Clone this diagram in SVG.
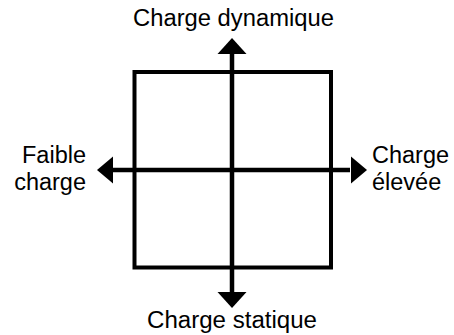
<svg xmlns="http://www.w3.org/2000/svg" width="454" height="335" viewBox="0 0 454 335">
<style>
text{font-family:"Liberation Sans",Arial,sans-serif;font-size:23.5px;fill:#000}
.ln{stroke:#000;stroke-width:4.5;fill:none}
.hd{fill:#000;stroke:none}
</style>
<rect width="454" height="335" fill="#fff"/>
<g id="square"><rect class="ln" x="134.5" y="72" width="196.5" height="195.5" style="stroke-width:4"/></g>
<g id="connectors">
<line class="ln" x1="232" y1="54" x2="232" y2="292"/>
<polygon class="hd" points="232,38 246.5,54 217.5,54"/>
<polygon class="hd" points="232,308 246.5,292 217.5,292"/>
<line class="ln" x1="113" y1="170" x2="350" y2="170"/>
<polygon class="hd" points="97,170 113,156.5 113,183.5"/>
<polygon class="hd" points="367,170 351,156.5 351,183.5"/>
</g>
<g id="top"><text x="133" y="26" textLength="201" lengthAdjust="spacingAndGlyphs">Charge dynamique</text></g>
<g id="bottom"><text x="147" y="328" textLength="170" lengthAdjust="spacingAndGlyphs">Charge statique</text></g>
<g id="left"><text x="86" y="163" text-anchor="end">Faible</text><text x="86" y="190" text-anchor="end">charge</text></g>
<g id="right"><text x="372" y="163">Charge</text><text x="372" y="190">élevée</text></g>
</svg>
